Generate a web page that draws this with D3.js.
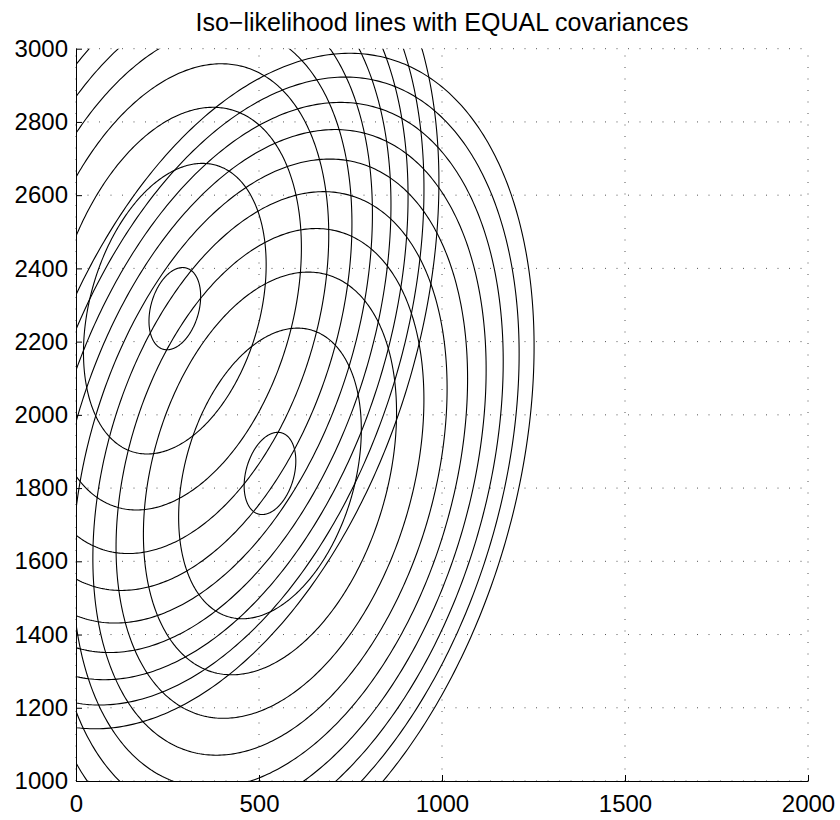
<!DOCTYPE html>
<html>
<head>
<meta charset="utf-8">
<script src="https://cdn.jsdelivr.net/npm/d3@7"></script>
<style>
  body { margin: 0; background: #fff; }
  text { font-family: "Liberation Sans", Arial, Helvetica, sans-serif; fill: #000; }
</style>
</head>
<body>
<svg id="chart" width="840" height="820"></svg>
<script>
// ---- data ----
const chartTitle = "Iso\u2212likelihood lines with EQUAL covariances";
const xTickValues = [0, 500, 1000, 1500, 2000];
const yTickValues = [1000, 1200, 1400, 1600, 1800, 2000, 2200, 2400, 2600, 2800, 3000];
const xDomain = [0, 2000];
const yDomain = [1000, 3000];
// class means (F1, F2)
const classMeanX = [270, 530];
const classMeanY = [2290, 1840];
// shared (equal) covariance matrix entries
const covXX = 57300;
const covXY = 27500;
const covYY = 144900;
// iso-likelihood levels expressed as squared Mahalanobis distances
const mahalanobisLevels = [0.087, 1.087, 2.087, 3.087, 4.087, 5.087, 6.087, 7.087, 8.087, 9.087];

(function () {
// ---- layout ----
const svg = d3.select("#chart");
const pLeft = 76, pRight = 808, pTop = 48.7, pBottom = 781;

const x = d3.scaleLinear().domain(xDomain).range([pLeft, pRight]);
const y = d3.scaleLinear().domain(yDomain).range([pBottom, pTop]);

svg.append("rect").attr("width", 840).attr("height", 820).attr("fill", "#fff");

svg.append("defs").append("clipPath").attr("id", "plotClip")
  .append("rect").attr("x", pLeft).attr("y", pTop)
  .attr("width", pRight - pLeft).attr("height", pBottom - pTop);

// grid (dotted)
const grid = svg.append("g").attr("class", "grid");
grid.selectAll("line.gx").data(xTickValues).join("line")
  .attr("class", "gx")
  .attr("x1", d => x(d)).attr("x2", d => x(d))
  .attr("y1", pBottom).attr("y2", pTop)
  .attr("stroke", "#555").attr("stroke-width", 1)
  .attr("stroke-dasharray", "1,10.5");
grid.selectAll("line.gy").data(yTickValues).join("line")
  .attr("class", "gy")
  .attr("x1", pLeft).attr("x2", pRight)
  .attr("y1", d => y(d)).attr("y2", d => y(d))
  .attr("stroke", "#555").attr("stroke-width", 1)
  .attr("stroke-dasharray", "1,10.5");

// ellipses
const l11 = Math.sqrt(covXX);
const l21 = covXY / l11;
const l22 = Math.sqrt(covYY - l21 * l21);
const nPts = 480;
const angles = d3.range(nPts).map(i => 2 * Math.PI * i / nPts);

const ellipses = [];
classMeanX.forEach((mx, ci) => {
  const my = classMeanY[ci];
  mahalanobisLevels.forEach(c => {
    const r = Math.sqrt(c);
    ellipses.push(angles.map(t => [
      mx + r * l11 * Math.cos(t),
      my + r * (l21 * Math.cos(t) + l22 * Math.sin(t))
    ]));
  });
});

const line = d3.line()
  .x(d => x(d[0]))
  .y(d => y(d[1]))
  .curve(d3.curveLinearClosed);

svg.append("g").attr("clip-path", "url(#plotClip)")
  .selectAll("path").data(ellipses).join("path")
  .attr("d", line)
  .attr("fill", "none")
  .attr("stroke", "#000")
  .attr("stroke-width", 1.1);

// axes
const xAxis = d3.axisBottom(x).tickValues(xTickValues)
  .tickSizeInner(-6).tickSizeOuter(0).tickPadding(14)
  .tickFormat(d3.format("d"));
const yAxis = d3.axisLeft(y).tickValues(yTickValues)
  .tickSizeInner(-6).tickSizeOuter(0).tickPadding(8)
  .tickFormat(d3.format("d"));

const gx = svg.append("g").attr("transform", `translate(0,${pBottom})`).call(xAxis);
const gy = svg.append("g").attr("transform", `translate(${pLeft},0)`).call(yAxis);
[gx, gy].forEach(g => {
  g.select(".domain").attr("stroke", "#000").attr("stroke-width", 1);
  g.selectAll(".tick line").attr("stroke", "#000").attr("stroke-width", 1);
  g.selectAll(".tick text")
    .attr("font-family", "'Liberation Sans', Arial, Helvetica, sans-serif")
    .attr("font-size", 24).attr("fill", "#000");
});

// title
svg.append("text")
  .attr("x", (pLeft + pRight) / 2).attr("y", 31)
  .attr("text-anchor", "middle")
  .attr("font-size", 25)
  .text(chartTitle);
})();
</script>
</body>
</html>
